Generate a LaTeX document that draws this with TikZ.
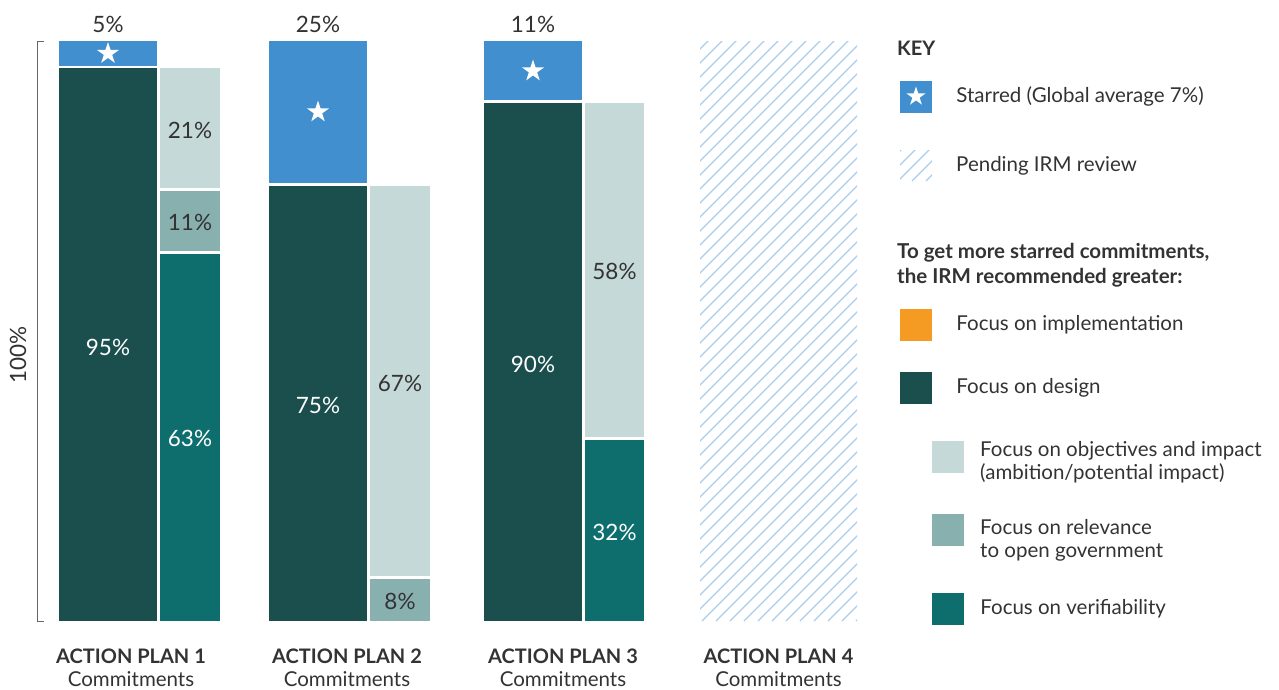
\documentclass[tikz,border=0pt]{standalone}
\usepackage{fontspec}
\setmainfont{Lato}
\usetikzlibrary{positioning,shapes.geometric}
\definecolor{starblue}{HTML}{418FCE}
\definecolor{design}{HTML}{1A4F4E}
\definecolor{objective}{HTML}{C5D9D8}
\definecolor{relevance}{HTML}{88B0AF}
\definecolor{verif}{HTML}{0E6E6E}
\definecolor{implement}{HTML}{F59A23}
\definecolor{hatchblue}{HTML}{A9CDEC}
\definecolor{txt}{HTML}{333333}
\begin{document}
\begin{tikzpicture}[x=1pt, y=-1pt, line cap=round]
  % stijlen
  \tikzset{
    pct/.style={font=\fontsize{22.5}{26}\selectfont, text=txt, inner sep=0pt},
    pctw/.style={pct, text=white},
    starmark/.style={star, star points=5, star point ratio=2.6, fill=white, draw=none, inner sep=0pt, minimum size=23pt},
    plan/.style={font=\fontsize{20}{24}\selectfont\bfseries, text=txt, inner sep=0pt},
    sub/.style={font=\fontsize{20.5}{24}\selectfont, text=txt, inner sep=0pt},
    keybox/.style={minimum size=32pt, inner sep=0pt},
    keytxt/.style={font=\fontsize{20.5}{23.5}\selectfont, text=txt, align=left, inner sep=0pt},
    hatchline/.style={draw=hatchblue, line width=1.3pt, line cap=butt}
  }
  \useasboundingbox (0,0) rectangle (1279,689);
  % schaal 100%
  \draw[gray!80!black, line width=0.9pt, line cap=butt] (44,41) -- (37,41) -- (37,621) -- (44,621);
  \node[pct, rotate=90] (full) at (18,355) {100\%};
  % plan 1
  \fill[starblue] (59,41) rectangle (157,66);
  \fill[design] (59,68) rectangle (157,621);
  \fill[objective] (160,68) rectangle (220,188);
  \fill[relevance] (160,191) rectangle (220,251);
  \fill[verif] (160,254) rectangle (220,621);
  \node[starmark] (s1) at (108,53.5) {};
  \node[pct] (top1) at (108,24) {5\%};
  \node[pctw] (d1) at (108,347) {95\%};
  \node[pct] (o1) at (190,130) {21\%};
  \node[pct] (r1) at (190,222) {11\%};
  \node[pctw] (v1) at (190,438) {63\%};
  % plan 2
  \fill[starblue] (269,41) rectangle (367,183);
  \fill[design] (269,186) rectangle (367,621);
  \fill[objective] (370,186) rectangle (430,576);
  \fill[relevance] (370,579) rectangle (430,621);
  \node[starmark] (s2) at (318,112) {};
  \node[pct] (top2) at (318,24) {25\%};
  \node[pctw] (d2) at (318,405) {75\%};
  \node[pct] (o2) at (400,383) {67\%};
  \node[pct] (r2) at (400,601) {8\%};
  % plan 3
  \fill[starblue] (484,41) rectangle (582,100);
  \fill[design] (484,103) rectangle (582,621);
  \fill[objective] (585,103) rectangle (644,437);
  \fill[verif] (585,440) rectangle (644,621);
  \node[starmark] (s3) at (533,71) {};
  \node[pct] (top3) at (533,24) {11\%};
  \node[pctw] (d3) at (533,364) {90\%};
  \node[pct] (o3) at (614.5,271) {58\%};
  \node[pctw] (v3) at (614.5,532) {32\%};
  % plan 4 (nog niet beoordeeld)
  \begin{scope}
    \clip (700,41) rectangle (857,621);
    \foreach \k in {0,...,56}
      \draw[hatchline] ({100+\k*14},621) -- ++(600,-600);
  \end{scope}
  % onderschriften
  \node[plan] (p1) at (131,656) {ACTION PLAN 1};
  \node[sub, below=8pt of p1] (c1) {Commitments};
  \node[plan] (p2) at (347,656) {ACTION PLAN 2};
  \node[sub, below=8pt of p2] (c2) {Commitments};
  \node[plan] (p3) at (563,656) {ACTION PLAN 3};
  \node[sub, below=8pt of p3] (c3) {Commitments};
  \node[plan] (p4) at (778.5,656) {ACTION PLAN 4};
  \node[sub, below=8pt of p4] (c4) {Commitments};
  % legenda
  \node[plan, anchor=west] (key) at (897,48) {KEY};
  \node[keybox, fill=starblue] (kstar) at (916,96.5) {};
  \node[starmark, minimum size=20pt] at (kstar) {};
  \node[keytxt, right=24pt of kstar] (tstar) {Starred (Global average 7\%)};
  \begin{scope}
    \clip (900,150) rectangle (932,181);
    \foreach \k in {0,...,6}
      \draw[hatchline] ({870+\k*14},181) -- ++(40,-40);
  \end{scope}
  \coordinate (khatch) at (916,165.5);
  \node[keytxt, right=40pt of khatch] (thatch) {Pending IRM review};
  \node[plan, anchor=west, align=left, font=\fontsize{20.5}{25}\selectfont\bfseries] (advice) at (897,265.5) {To get more starred commitments,\\the IRM recommended greater:};
  \node[keybox, fill=implement] (kimpl) at (916,325) {};
  \node[keytxt, right=24pt of kimpl] (timpl) {Focus on implementation};
  \node[keybox, fill=design] (kdes) at (916,388) {};
  \node[keytxt, right=24pt of kdes] (tdes) {Focus on design};
  \node[keybox, fill=objective] (kobj) at (948,457) {};
  \node[keytxt, anchor=north west] (tobj) at (980,441) {Focus on objectives and impact\\(ambition/potential impact)};
  \node[keybox, fill=relevance] (krel) at (948,530) {};
  \node[keytxt, anchor=north west] (trel) at (980,519) {Focus on relevance\\to open government};
  \node[keybox, fill=verif] (kver) at (948,609) {};
  \node[keytxt, right=16pt of kver] (tver) {Focus on verifiability};
\end{tikzpicture}
\end{document}
